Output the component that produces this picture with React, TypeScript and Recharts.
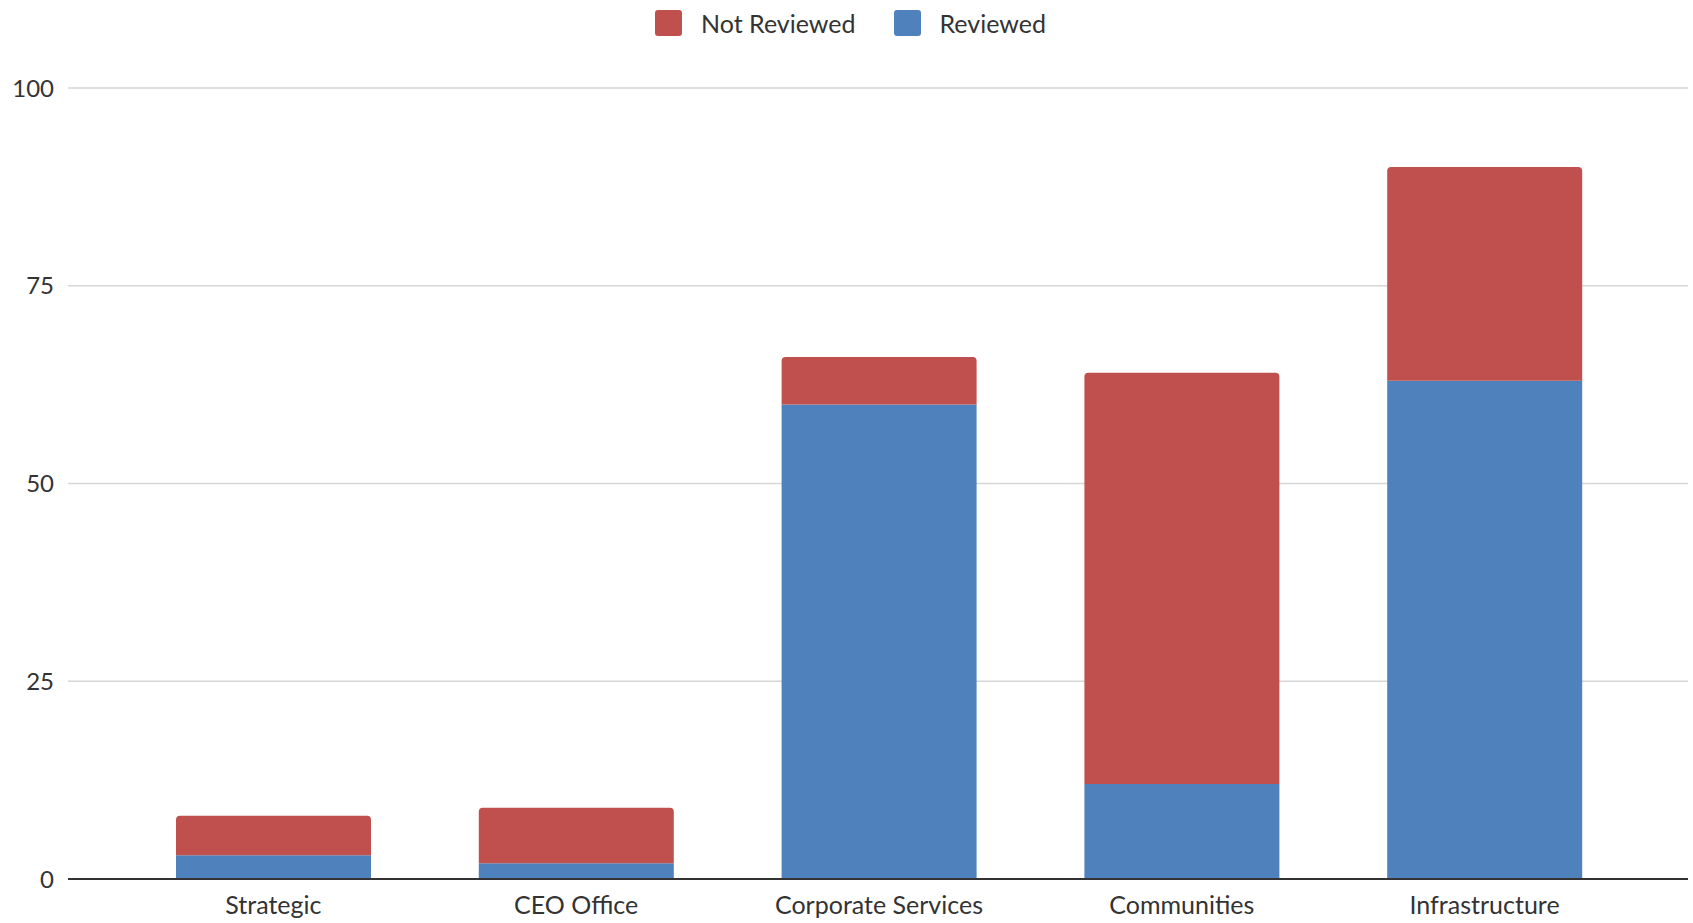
import { BarChart, Bar, XAxis, YAxis, CartesianGrid } from 'recharts'

const categories = ['Strategic', 'CEO Office', 'Corporate Services', 'Communities', 'Infrastructure']
const reviewed = [3, 2, 60, 12, 63]
const notReviewed = [5, 7, 6, 52, 27]
const yTicks = [0, 25, 50, 75, 100]

const series = [
  { key: 'notReviewed', name: 'Not Reviewed', color: '#c0504d' },
  { key: 'reviewed', name: 'Reviewed', color: '#4f81bd' },
]

const data = categories.map((name, i) => ({
  name,
  reviewed: reviewed[i],
  notReviewed: notReviewed[i],
}))

const FONT = 'Lato, "Open Sans", sans-serif'

// legend sits above the plot, centred on the whole picture
function ChartLegend() {
  return (
    <div
      style={{
        position: 'absolute',
        top: 8,
        left: 4,
        width: 1693,
        display: 'flex',
        justifyContent: 'center',
        alignItems: 'center',
        fontFamily: FONT,
        fontSize: 25,
        color: '#333',
      }}
    >
      {series.map((s, i) => (
        <div key={s.key} style={{ display: 'flex', alignItems: 'center', marginLeft: i === 0 ? 0 : 38 }}>
          <span style={{ display: 'inline-block', width: 27, height: 26, background: s.color, borderRadius: 3, marginRight: 19 }} />
          <span>{s.name}</span>
        </div>
      ))}
    </div>
  )
}

export default function App() {
  return (
    <div style={{ position: 'absolute', left: 0, top: 0, width: 1693, height: 923, background: '#fff' }}>
      <BarChart
        width={1693}
        height={923}
        data={data}
        margin={{ top: 88, right: 5, bottom: 0, left: 0 }}
        barSize={195}
      >
        <CartesianGrid vertical={false} stroke="#d6d6d6" strokeWidth={1.5} />
        <XAxis
          dataKey="name"
          height={44}
          padding={{ left: 54, right: 52 }}
          tickLine={false}
          axisLine={{ stroke: '#333', strokeWidth: 2 }}
          tickMargin={11}
          tick={{ fill: '#333', fontSize: 25, fontFamily: FONT }}
        />
        <YAxis
          width={68}
          domain={[0, 100]}
          ticks={yTicks}
          axisLine={false}
          tickLine={false}
          tickMargin={8}
          tick={{ fill: '#333', fontSize: 24, fontFamily: FONT }}
        />
        <Bar dataKey="reviewed" name="Reviewed" stackId="a" fill="#4f81bd" isAnimationActive={false} />
        <Bar dataKey="notReviewed" name="Not Reviewed" stackId="a" fill="#c0504d" radius={[4, 4, 0, 0]} isAnimationActive={false} />
      </BarChart>
      <ChartLegend />
    </div>
  )
}
